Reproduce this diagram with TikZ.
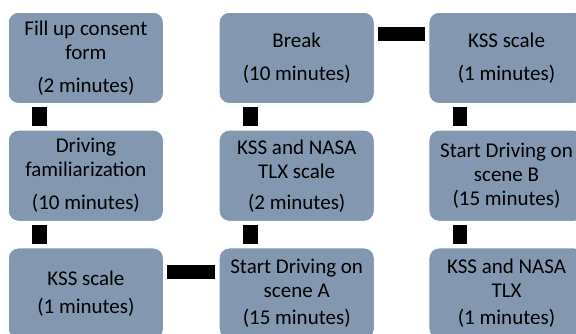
\documentclass[tikz,border=0pt]{standalone}
\usepackage{fontspec}
\setmainfont{Carlito}
\usetikzlibrary{positioning}
\definecolor{boxfill}{RGB}{132,151,176}

\begin{document}
\begin{tikzpicture}[
    x=1bp,y=-1bp,
    node distance=26bp and 55bp,
    stepbox/.style={draw=white,line width=0.8bp,fill=boxfill,rounded corners=10bp,
               minimum width=155bp,minimum height=91bp,inner sep=2bp,
               align=center,font=\fontsize{21bp}{24bp}\selectfont},
    link/.style={line width=14.5bp,black,shorten >=3.5bp,shorten <=3.5bp}]
  \path[use as bounding box,clip] (0,0) rectangle (576,333);
  \node[stepbox,anchor=north west] (consent) at (8,12) {Fill up consent\\form\\[9bp](2 minutes)};
  \node[stepbox,below=of consent] (familiar) {Driving\\familiarization\\[9bp](10 minutes)};
  \node[stepbox,below=of familiar] (kssA) {KSS scale\\[4bp](1 minutes)};
  \node[stepbox,right=of kssA] (driveA) {Start Driving on\\scene A\\[3bp](15 minutes)};
  \node[stepbox,above=of driveA] (tlxA) {KSS and NASA\\TLX scale\\[7bp](2 minutes)};
  \node[stepbox,above=of tlxA] (brk) {Break\\[9bp](10 minutes)};
  \node[stepbox,right=54bp of brk] (kssB) {KSS scale\\[9bp](1 minutes)};
  \node[stepbox,below=of kssB] (driveB) {Start Driving on\\scene B\\(15 minutes)};
  \node[stepbox,below=of driveB] (tlxB) {KSS and NASA\\TLX\\[3bp](1 minutes)};
  \draw[link] ([xshift=31.5bp]consent.south west) -- ([xshift=31.5bp]familiar.north west);
  \draw[link] ([xshift=31.5bp]familiar.south west) -- ([xshift=31.5bp]kssA.north west);
  \draw[link] ([yshift=-24.5bp]kssA.north east) -- ([yshift=-24.5bp]driveA.north west);
  \draw[link] ([xshift=31.5bp]driveA.north west) -- ([xshift=31.5bp]tlxA.south west);
  \draw[link] ([xshift=31.5bp]tlxA.north west) -- ([xshift=31.5bp]brk.south west);
  \draw[link] ([yshift=-22bp]brk.north east) -- ([yshift=-22bp]kssB.north west);
  \draw[link] ([xshift=31.5bp]kssB.south west) -- ([xshift=31.5bp]driveB.north west);
  \draw[link] ([xshift=31.5bp]driveB.south west) -- ([xshift=31.5bp]tlxB.north west);
\end{tikzpicture}
\end{document}
